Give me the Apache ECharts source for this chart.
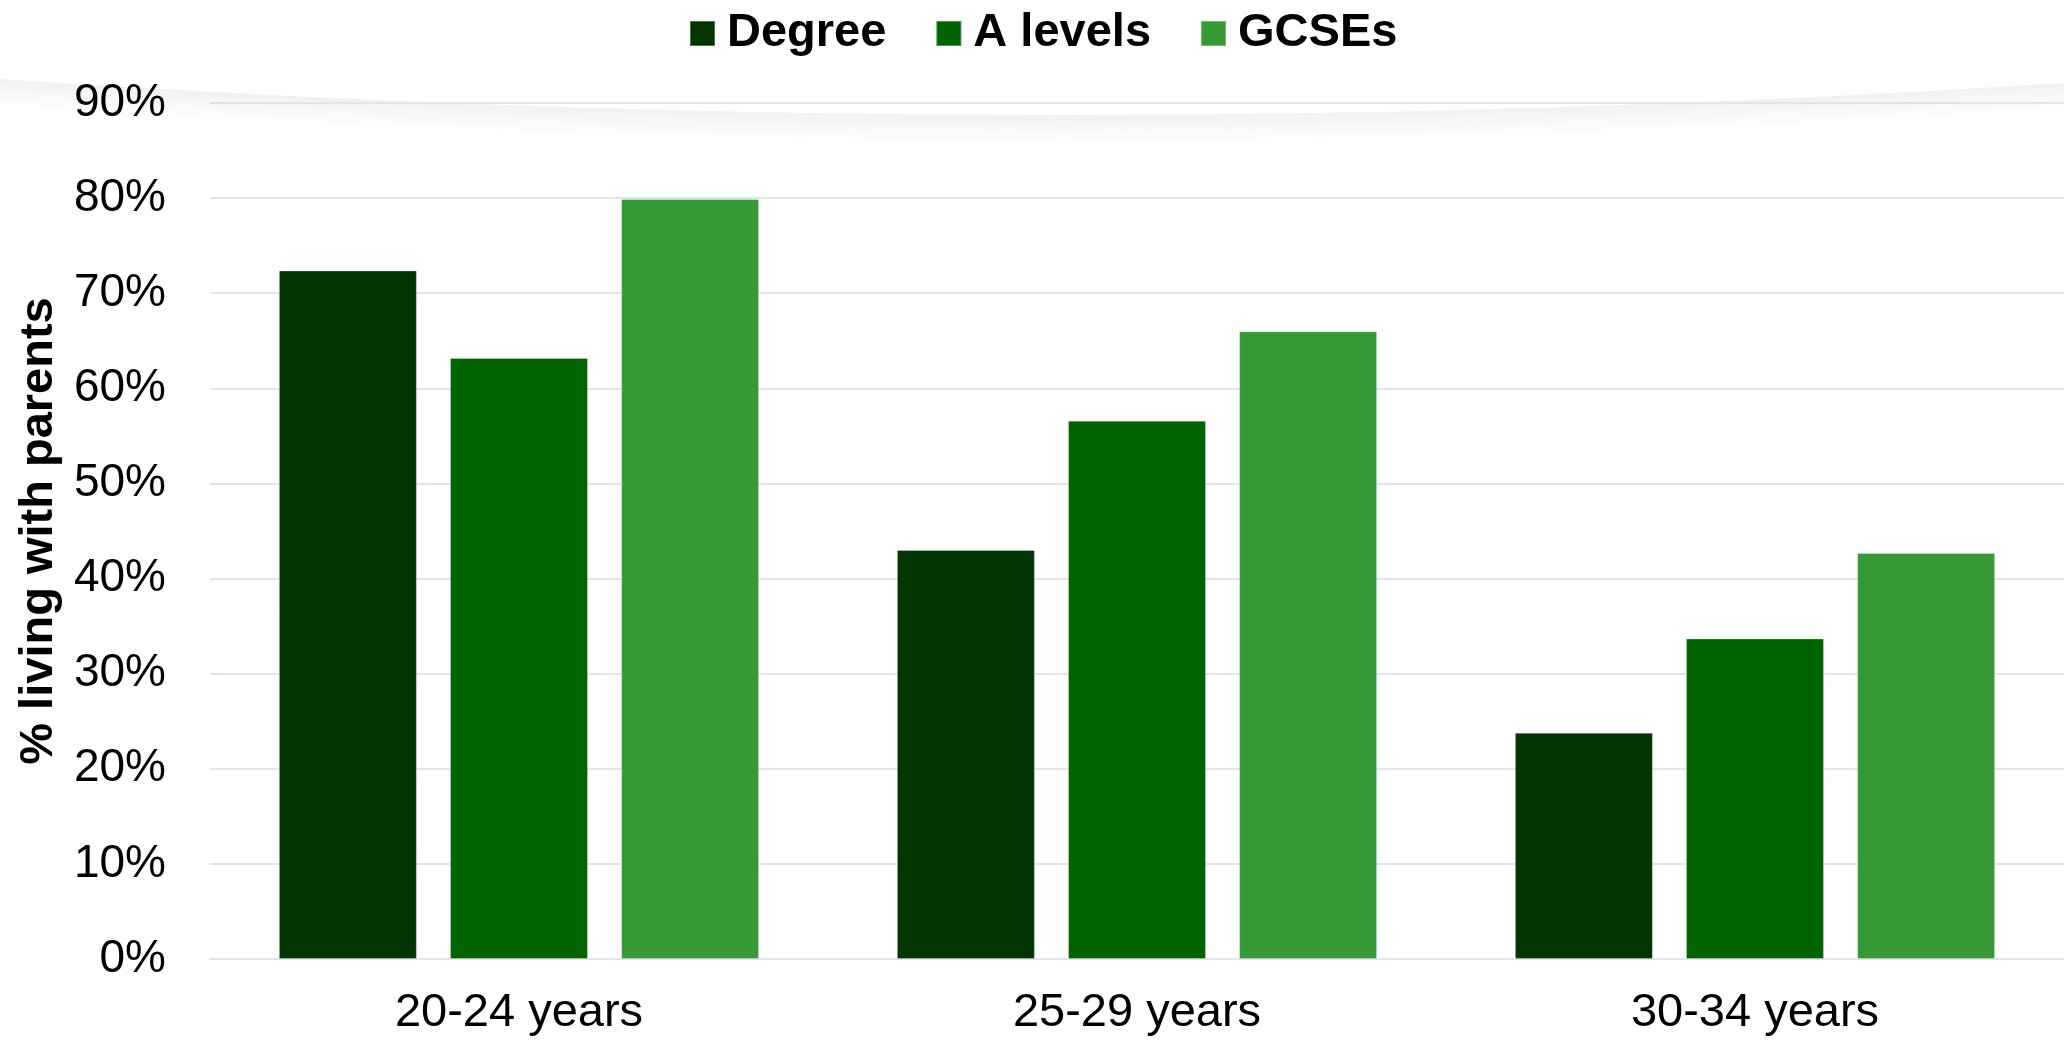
<!DOCTYPE html>
<html>
<head>
<meta charset="utf-8">
<script src="https://cdn.jsdelivr.net/npm/echarts@6/dist/echarts.min.js"></script>
<style>
html,body{margin:0;padding:0;background:#fff;}
#chart{width:2064px;height:1045px;}
</style>
</head>
<body>
<div id="chart"></div>
<script>
const categories = ['20-24 years', '25-29 years', '30-34 years'];
const degree = [72.4, 43.0, 23.8];
const aLevels = [63.2, 56.6, 33.7];
const gcses = [79.9, 66.0, 42.7];
const seriesNames = ['Degree', 'A levels', 'GCSEs'];
const colors = ['#033503', '#006400', '#359a35'];

const FONT = '"Liberation Sans", Arial, sans-serif';
const chart = echarts.init(document.getElementById('chart'), null, {renderer: 'canvas'});

// decorative curled shadow at the top
const shadowEls = [];
for (let i = 0; i < 14; i++) {
  const o = i * 2;
  shadowEls.push({
    type: 'bezierCurve',
    silent: true,
    z: -10,
    shape: {x1: 0, y1: 80 + o, cpx1: 1032, cpy1: 150 + o, x2: 2064, y2: 84 + o},
    style: {fill: null, stroke: 'rgba(0,0,0,' + (0.055 * (1 - i / 14)).toFixed(4) + ')', lineWidth: 2}
  });
}

const barItemStyle = {borderColor: 'rgba(255,255,255,0.3)', borderWidth: 1};

chart.setOption({
  backgroundColor: '#ffffff',
  animation: false,
  color: colors,
  graphic: shadowEls,
  legend: {
    top: 5,
    left: 684,
    itemWidth: 25,
    itemHeight: 25,
    itemGap: 49,
    icon: 'rect',
    textStyle: {fontFamily: FONT, fontSize: 47, fontWeight: 'bold', color: '#000', padding: [0, 0, 0, 7]},
    data: seriesNames
  },
  grid: {left: 210, right: 0, top: 103, bottom: 86, containLabel: false},
  xAxis: {
    type: 'category',
    data: categories,
    axisTick: {show: false},
    axisLine: {lineStyle: {color: '#e1e4e9', width: 2}},
    axisLabel: {fontFamily: FONT, fontSize: 47, color: '#000', margin: 31}
  },
  yAxis: {
    type: 'value',
    min: 0,
    max: 90,
    interval: 10,
    name: '% living with parents',
    nameLocation: 'middle',
    nameGap: 147,
    nameTextStyle: {fontFamily: FONT, fontSize: 47, fontWeight: 'bold', color: '#000'},
    axisLine: {show: false},
    axisTick: {show: false},
    axisLabel: {fontFamily: FONT, fontSize: 46, color: '#000', margin: 44, formatter: '{value}%'},
    splitLine: {lineStyle: {color: '#e1e4e9', width: 2}}
  },
  series: [
    {name: seriesNames[0], type: 'bar', data: degree, barWidth: 138, barGap: '24%', itemStyle: barItemStyle},
    {name: seriesNames[1], type: 'bar', data: aLevels, barWidth: 138, barGap: '24%', itemStyle: barItemStyle},
    {name: seriesNames[2], type: 'bar', data: gcses, barWidth: 138, barGap: '24%', itemStyle: barItemStyle}
  ]
});
</script>
</body>
</html>
